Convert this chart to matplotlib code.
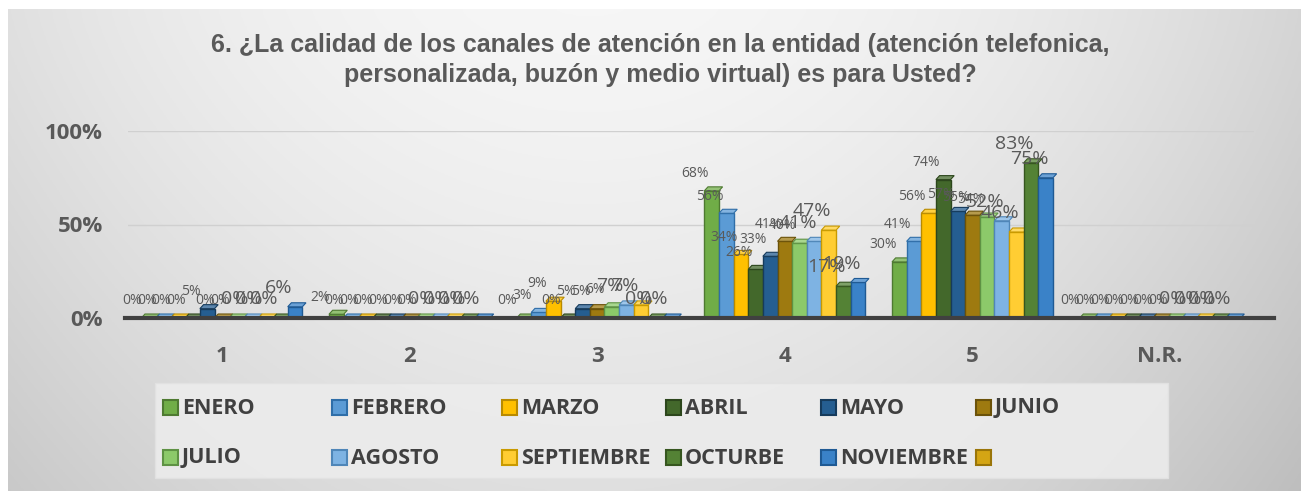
import numpy as np
import matplotlib
matplotlib.use("Agg")
import matplotlib.pyplot as plt
from matplotlib.patches import Rectangle
from matplotlib.colors import to_rgb
from matplotlib.ticker import FuncFormatter

categories = ["1", "2", "3", "4", "5", "N.R."]
series_names = ["ENERO", "FEBRERO", "MARZO", "ABRIL", "MAYO", "JUNIO",
                "JULIO", "AGOSTO", "SEPTIEMBRE", "OCTURBE", "NOVIEMBRE", ""]

enero = [0.00, 0.02, 0.00, 0.68, 0.30, 0.00]
febrero = [0.00, 0.00, 0.03, 0.56, 0.41, 0.00]
marzo = [0.00, 0.00, 0.09, 0.34, 0.56, 0.00]
abril = [0.00, 0.00, 0.00, 0.26, 0.74, 0.00]
mayo = [0.05, 0.00, 0.05, 0.33, 0.57, 0.00]
junio = [0.00, 0.00, 0.05, 0.41, 0.55, 0.00]
julio = [0.00, 0.00, 0.06, 0.40, 0.54, 0.00]
agosto = [0.00, 0.00, 0.07, 0.41, 0.52, 0.00]
septiembre = [0.00, 0.00, 0.07, 0.47, 0.46, 0.00]
octubre = [0.00, 0.00, 0.00, 0.17, 0.83, 0.00]
noviembre = [0.06, 0.00, 0.00, 0.19, 0.75, 0.00]
diciembre = [np.nan] * 6

series_values = [enero, febrero, marzo, abril, mayo, junio,
                 julio, agosto, septiembre, octubre, noviembre, diciembre]

colors = ["#70AD47", "#5B9BD5", "#FFC000", "#43682B", "#255E91", "#9E7A10",
          "#8CC96A", "#7EB3E3", "#FFCD33", "#548235", "#3A82C8", "#D4A514"]
edge_colors = ["#4E7A31", "#2F6EA8", "#B88A00", "#2C461C", "#163B5C", "#6B5209",
               "#5E9244", "#4F86B8", "#C99A00", "#36561F", "#1F5A94", "#9A7508"]
label_sizes = [10, 10, 10, 10, 10, 10, 10, 14, 14, 14, 14, 14]


def lighten(c, f):
    r, g, b = to_rgb(c)
    return (r + (1 - r) * f, g + (1 - g) * f, b + (1 - b) * f)


W, H = 1307, 491
fig = plt.figure(figsize=(W / 100, H / 100), dpi=100)

# background gradient
bg = fig.add_axes([0, 0, 1, 1], zorder=-10)
bg.set_axis_off()
xx, yy = np.meshgrid(np.linspace(0, 1, 400), np.linspace(0, 1, 200))
val = 0.965 - 0.13 * ((xx - 0.45) / 0.55) ** 2 - 0.09 * yy ** 1.3
val = np.clip(val, 0, 1)
img = np.dstack([val, val, val])
bg.imshow(img, extent=[8 / W, 1 - 6 / W, 0, 1 - 9 / H], aspect="auto",
          origin="upper")
bg.set_xlim(0, 1)
bg.set_ylim(0, 1)

ax = fig.add_axes([128 / W, (H - 318) / H, 1126 / W, 187 / H])
ax.set_facecolor("none")
for s in ax.spines.values():
    s.set_visible(False)

n_real = 11
w = 0.078
x = np.arange(len(categories))
dx = 0.25 * w          # depth offset of the pseudo-3D top face (data units)
dy = 4.0 / 187.0       # ~4 px upward
for i, (vals, c, ec) in enumerate(zip(series_values, colors, edge_colors)):
    xs = x + (i - (n_real - 1) / 2) * w
    ax.bar(xs, vals, width=w, color=c, edgecolor=ec, linewidth=1.0, zorder=3 + i * 0.01)
    for xi, v in zip(xs, vals):
        if np.isnan(v):
            continue
        x0, x1 = xi - w / 2, xi + w / 2
        ax.fill([x0, x1, x1 + dx, x0 + dx], [v, v, v + dy, v + dy],
                facecolor=lighten(c, 0.25), edgecolor=ec, linewidth=0.8,
                zorder=3 + i * 0.01, clip_on=False)
        ax.annotate(f"{v:.0%}", (xi, v), xytext=(-12, 7), textcoords="offset points",
                    ha="center", va="bottom", fontsize=label_sizes[i],
                    family="Open Sans", color="#595959", zorder=5,
                    annotation_clip=False)

ax.set_xlim(-0.5, len(categories) - 0.5)
ax.set_ylim(0, 1)
ax.set_yticks([0, 0.5, 1.0])
ax.yaxis.set_major_formatter(FuncFormatter(lambda v, p: f"{v:.0%}"))
ax.set_xticks(x)
ax.set_xticklabels(categories)
ax.tick_params(axis="both", length=0, colors="#595959")
ax.tick_params(axis="y", pad=18)
ax.tick_params(axis="x", pad=20)
for lab in ax.get_yticklabels() + ax.get_xticklabels():
    lab.set_fontsize(16)
    lab.set_fontweight("bold")
    lab.set_fontfamily("Open Sans")
ax.grid(axis="y", color="#d0d0d0", linewidth=1.0, zorder=0)
ax.axhline(0, color="#404040", linewidth=3, zorder=4, xmin=-0.003, xmax=1.018,
           clip_on=False)

fig.text(660 / W, 1 - 60 / H,
         "6. ¿La calidad de los canales de atención en la entidad (atención telefonica,\n"
         "personalizada, buzón y medio virtual) es para Usted?",
         ha="center", va="center", fontsize=18, fontweight="bold",
         color="#595959", family="Liberation Sans", linespacing=1.3)

# legend (drawn manually, row-major, equal column grid like the original)
fig.patches.append(Rectangle((155 / W, 1 - 478 / H), 1013 / W, 95 / H,
                             transform=fig.transFigure, facecolor="#ececec",
                             edgecolor="#e2e2e2", linewidth=1, alpha=0.9,
                             zorder=1))
col_x = [163, 332, 502, 666, 821, 976]
row_y = [407, 457]
msize = 15
for k, (name, c, ec) in enumerate(zip(series_names, colors, edge_colors)):
    r, cidx = divmod(k, 6)
    mx, my = col_x[cidx], row_y[r]
    fig.patches.append(Rectangle((mx / W, 1 - (my + msize / 2) / H), msize / W, msize / H,
                                 transform=fig.transFigure, facecolor=c,
                                 edgecolor=ec, linewidth=1.5, zorder=2))
    fig.text((mx + msize + 4) / W, 1 - (my + 1) / H, name, ha="left", va="center",
             fontsize=15.5, fontweight="bold", family="Open Sans", color="#404040")

fig.savefig("out.png", dpi=100)
